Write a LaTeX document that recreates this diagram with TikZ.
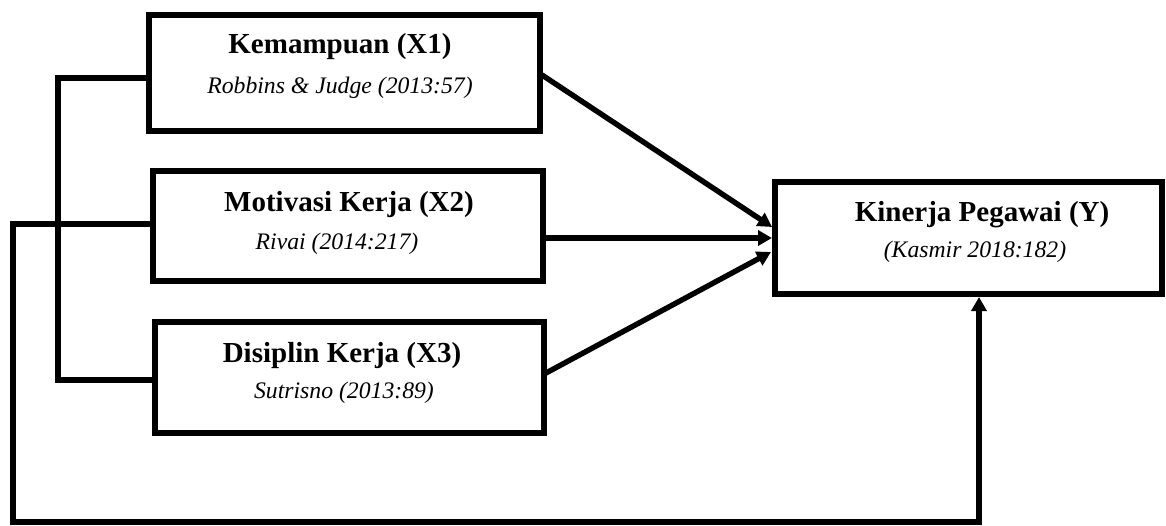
\documentclass[tikz,border=0pt]{standalone}
\usepackage{fontspec}
\setmainfont{Liberation Serif}
\usetikzlibrary{arrows.meta,calc}
\begin{document}
\begin{tikzpicture}[x=1pt,y=-1pt,
  box/.style={draw=black,line width=5.6pt,rectangle,inner sep=0pt,outer sep=0pt,fill=white},
  ttl/.style={anchor=base,inner sep=0pt,font=\fontsize{29}{32}\selectfont\bfseries},
  src/.style={anchor=base,inner sep=0pt,font=\fontsize{23.7}{27}\selectfont\itshape},
  conn/.style={draw=black,line width=5.4pt,line join=miter},
  arr/.style={conn,-{Triangle[length=14pt,width=15pt]}}]
\useasboundingbox (0,0) rectangle (1166,526);
% boxes
\node[box,minimum width=391pt,minimum height=116pt] (x1) at (344.5,73) {};
\node[box,minimum width=390pt,minimum height=110pt] (x2) at (348,226) {};
\node[box,minimum width=389pt,minimum height=111pt] (x3) at (349.5,377.5) {};
\node[box,minimum width=387pt,minimum height=112pt] (y) at (968.5,238) {};
% texts
\node[ttl] (x1t) at (340,54) {Kemampuan (X1)};
\node[src] (x1s) at (340,94) {Robbins \& Judge (2013:57)};
\node[ttl] (x2t) at (349,212) {Motivasi Kerja (X2)};
\node[src] (x2s) at (337,250) {Rivai (2014:217)};
\node[ttl] (x3t) at (342,362) {Disiplin Kerja (X3)};
\node[src] (x3s) at (344,398) {Sutrisno (2013:89)};
\node[ttl] (yt) at (982,222) {Kinerja Pegawai (Y)};
\node[src] (ys) at (975,258) {(Kasmir 2018:182)};
% coordinates
\coordinate (b1) at ($(x1.west)+(-3,5)$);
\coordinate (b2) at (58,78);
\coordinate (b3) at (58,380);
\coordinate (b4) at ($(x3.west)+(-2,2.5)$);
\coordinate (l1) at ($(x2.west)+(-3,-2)$);
\coordinate (l2) at (13,224);
\coordinate (l3) at (13,522);
\coordinate (l4) at (979,522);
\coordinate (l5) at ($(y.south)+(10.5,3)$);
\coordinate (a1s) at ($(x1.east)+(2,2)$);
\coordinate (a1e) at ($(y.west)+(-3,-11)$);
\coordinate (a2s) at ($(x2.east)+(2,12)$);
\coordinate (a2e) at ($(y.west)+(-3,0)$);
\coordinate (a3s) at ($(x3.east)+(2,-4.5)$);
\coordinate (a3e) at ($(y.west)+(-4,14)$);
% connectors
\draw[conn] (b1) -- (b2) -- (b3) -- (b4);
\draw[arr] (l1) -- (l2) -- (l3) -- (l4) -- (l5);
\draw[arr] (a1s) -- (a1e);
\draw[arr] (a2s) -- (a2e);
\draw[arr] (a3s) -- (a3e);
\end{tikzpicture}
\end{document}
